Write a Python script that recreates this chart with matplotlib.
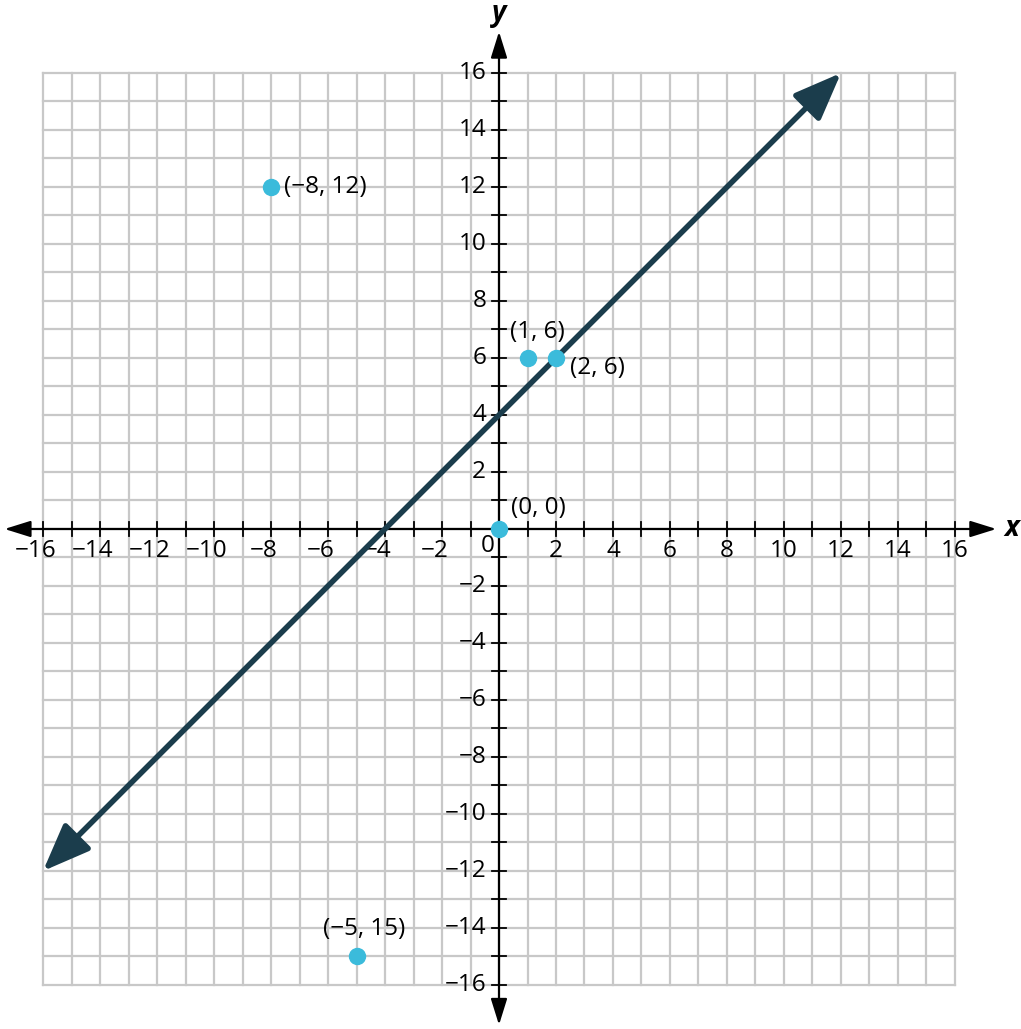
import numpy as np
import matplotlib
matplotlib.use("Agg")
import matplotlib.pyplot as plt
from matplotlib.patches import FancyArrowPatch

plt.rcParams['font.family'] = ['Open Sans', 'DejaVu Sans']

# data
pt_x = [-8, 1, 2, 0, -5]
pt_y = [12, 6, 6, 0, -15]
pt_labels = ["(\u22128, 12)", "(1, 6)", "(2, 6)", "(0, 0)", "(\u22125, 15)"]
lbl_x = [-7.55, 1.33, 2.5, 0.42, -4.74]
lbl_y = [12, 6.9, 5.65, 0.75, -14.05]
lbl_ha = ['left', 'center', 'left', 'left', 'center']
line_x = [-16, 12]
line_y = [-12, 16]
ticks = np.arange(-16, 17, 2)

fig = plt.figure(figsize=(10.21, 10.29), dpi=100)
ax = fig.add_axes([0, 0, 1, 1])
ax.set_xlim(-17.509, 18.316)
ax.set_ylim(-17.544, 18.561)
ax.axis('off')

# grid
for v in range(-16, 17):
    ax.plot([v, v], [-16, 16], color='#c8c8c8', lw=1.6, zorder=1)
    ax.plot([-16, 16], [v, v], color='#c8c8c8', lw=1.6, zorder=1)

# axes with arrows
astyle = '<|-|>,head_length=1.6,head_width=0.5'
ax.add_patch(FancyArrowPatch((-17.35, 0), (17.45, 0), arrowstyle=astyle, shrinkA=0, shrinkB=0,
                             mutation_scale=10, color='black', lw=1.6, zorder=3))
ax.add_patch(FancyArrowPatch((0, -17.4), (0, 17.45), arrowstyle=astyle, shrinkA=0, shrinkB=0,
                             mutation_scale=10, color='black', lw=1.6, zorder=3))
for v in range(-16, 17):
    ax.plot([v, v], [-0.25, 0.25], color='black', lw=1.3, zorder=3)
    ax.plot([-0.25, 0.25], [v, v], color='black', lw=1.3, zorder=3)

fs = 17.5
for t in ticks:
    if t == 0:
        continue
    s = str(t).replace('-', '\u2212')
    ax.text(t - (0.25 if t < 0 else 0), -0.78, s, ha='center', va='center', fontsize=fs, zorder=4)
    ax.text(-0.45, t, s, ha='right', va='center', fontsize=fs, zorder=4)
ax.text(-0.4, -0.6, '0', ha='center', va='center', fontsize=fs, zorder=4)
ax.text(18.0, 0, 'x', ha='center', va='center', fontsize=20, fontweight='bold', style='italic', zorder=4)
ax.text(0, 18.1, 'y', ha='center', va='center', fontsize=20, fontweight='bold', style='italic', zorder=4)

# line y = x + 4
ax.add_patch(FancyArrowPatch((line_x[0], line_y[0]), (line_x[1], line_y[1]),
                             arrowstyle='<|-|>,head_length=2.9,head_width=1.15',
                             mutation_scale=10, color='#1b3d4c', lw=4, shrinkA=0, shrinkB=0, zorder=5))

# points
ax.plot(pt_x, pt_y, 'o', color='#3bbbdb', markersize=11.5, zorder=6)
for x, y, s, ha in zip(lbl_x, lbl_y, pt_labels, lbl_ha):
    ax.text(x, y, s, ha=ha, va='center', fontsize=fs, zorder=6)

fig.savefig('out.png', dpi=100)
